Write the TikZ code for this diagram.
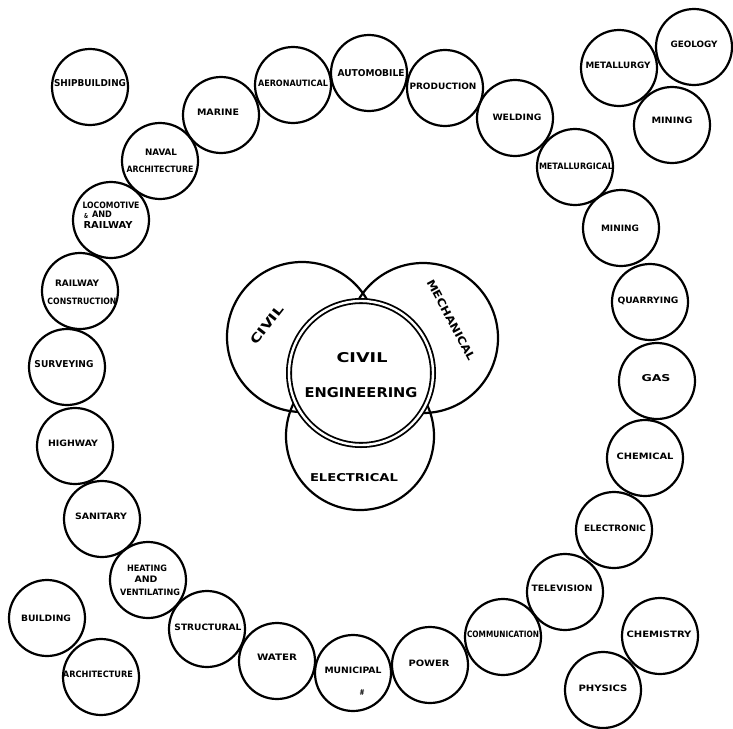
\documentclass[tikz,border=0pt]{standalone}
\usepackage{fontspec}
\setmainfont{DejaVu Sans}
\usepackage{graphicx}
\newcommand\lab[2]{\resizebox{#1pt}{6.5pt}{\bfseries #2}}
\newcommand\labh[3]{\resizebox{#1pt}{#2pt}{\bfseries #3}}
\begin{document}
\begin{tikzpicture}[x=1pt,y=-1pt,
  bub/.style={circle,draw,line width=2.2pt,minimum size=76pt,inner sep=0pt},
  big/.style={circle,draw,line width=2.2pt,minimum size=150pt,inner sep=0pt},
  lb/.style={inner sep=0pt,outer sep=0pt}]
\useasboundingbox (0,0) rectangle (733,728);
% central group
\node[big] (civ) at (302,337) {};
\node[big] (mech) at (423,338) {};
\node[big,minimum size=148pt] (elec) at (360,436) {};
\node[circle,draw,fill=white,line width=1.8pt,double,double distance=2.4pt,minimum size=144pt,inner sep=0pt] (ce) at (361,373) {};
\node[lb] (ce-t1) at (362,358) {\labh{51}{10}{CIVIL}};
\node[lb] (ce-t2) at (361,393) {\labh{113}{10}{ENGINEERING}};
\node[lb,rotate=52] (civ-t) at (267,325) {\labh{46}{9}{CIVIL}};
\node[lb,rotate=-62] (mech-t) at (451,320) {\labh{90}{8}{MECHANICAL}};
\node[lb] (elec-t) at (354,478) {\labh{88}{8}{ELECTRICAL}};
% ring
\node[bub] (ship) at (90,87) {};       \node[lb] (ship-t) at (90,83) {\labh{72}{7}{SHIPBUILDING}};
\node[bub] (aero) at (293,85) {};      \node[lb] (aero-t) at (293,83) {\lab{70}{AERONAUTICAL}};
\node[bub] (auto) at (369,73) {};      \node[lb] (auto-t) at (371,73) {\labh{67}{7}{AUTOMOBILE}};
\node[bub] (marine) at (221,115) {};   \node[lb] (marine-t) at (218,112) {\lab{42}{MARINE}};
\node[bub] (naval) at (160,161) {};
\node[lb] (naval-t1) at (161,152) {\lab{32}{NAVAL}};
\node[lb] (naval-t2) at (160,169) {\lab{67}{ARCHITECTURE}};
\node[bub] (loco) at (111,220) {};
\node[lb] (loco-t1) at (111,205) {\lab{57}{LOCOMOTIVE}};
\node[lb] (loco-t2) at (98,215) {\raisebox{-1.5pt}{\labh{4}{5}{\&}}\hspace{4pt}\lab{20}{AND}};
\node[lb] (loco-t3) at (108,225) {\labh{49}{7}{RAILWAY}};
\node[bub] (prod) at (445,88) {};      \node[lb] (prod-t) at (443,86) {\lab{67}{PRODUCTION}};
\node[bub] (weld) at (515,118) {};     \node[lb] (weld-t) at (517,117) {\lab{49}{WELDING}};
\node[bub] (metcal) at (575,167) {};   \node[lb] (metcal-t) at (576,166) {\lab{74}{METALLURGICAL}};
\node[bub] (mining1) at (621,228) {};  \node[lb] (mining1-t) at (620,228) {\lab{38}{MINING}};
\node[bub] (quarry) at (650,302) {};   \node[lb] (quarry-t) at (648,301) {\lab{61}{QUARRYING}};
\node[bub] (gas) at (657,381) {};      \node[lb] (gas-t) at (656,378) {\labh{29}{7}{GAS}};
\node[bub] (chemical) at (645,458) {}; \node[lb] (chemical-t) at (645,456) {\lab{57}{CHEMICAL}};
\node[bub] (electronic) at (614,530) {}; \node[lb] (electronic-t) at (615,528) {\lab{62}{ELECTRONIC}};
\node[bub] (tv) at (565,592) {};       \node[lb] (tv-t) at (562,588) {\lab{61}{TELEVISION}};
\node[bub] (comm) at (503,637) {};     \node[lb] (comm-t) at (503,634) {\lab{72}{COMMUNICATION}};
\node[bub] (power) at (430,665) {};    \node[lb] (power-t) at (429,663) {\lab{41}{POWER}};
\node[bub] (muni) at (353,673) {};
\node[lb] (muni-t1) at (353,670) {\lab{57}{MUNICIPAL}};
\node[lb] (muni-t2) at (362,692) {\labh{5}{6}{\#}};
\node[bub] (water) at (277,661) {};    \node[lb] (water-t) at (277,657) {\lab{40}{WATER}};
\node[bub] (struct) at (207,629) {};   \node[lb] (struct-t) at (208,627) {\lab{67}{STRUCTURAL}};
\node[bub] (heat) at (148,580) {};
\node[lb] (heat-t1) at (147,568) {\lab{40}{HEATING}};
\node[lb] (heat-t2) at (146,579) {\lab{23}{AND}};
\node[lb] (heat-t3) at (150,592) {\lab{60}{VENTILATING}};
\node[bub] (sanit) at (102,519) {};    \node[lb] (sanit-t) at (101,516) {\lab{52}{SANITARY}};
\node[bub] (highway) at (75,446) {};   \node[lb] (highway-t) at (73,443) {\lab{50}{HIGHWAY}};
\node[bub] (survey) at (67,367) {};    \node[lb] (survey-t) at (64,364) {\labh{59}{7}{SURVEYING}};
\node[bub] (railc) at (80,291) {};
\node[lb] (railc-t1) at (77,283) {\lab{44}{RAILWAY}};
\node[lb] (railc-t2) at (82,301) {\lab{69}{CONSTRUCTION}};
% corner groups
\node[bub] (metallurgy) at (619,68) {}; \node[lb] (metallurgy-t) at (618,65) {\lab{65}{METALLURGY}};
\node[bub] (geology) at (694,47) {};   \node[lb] (geology-t) at (694,44) {\lab{47}{GEOLOGY}};
\node[bub] (mining2) at (672,125) {};  \node[lb] (mining2-t) at (672,120) {\lab{41}{MINING}};
\node[bub] (building) at (47,618) {};  \node[lb] (building-t) at (46,618) {\lab{50}{BUILDING}};
\node[bub] (arch) at (101,677) {};     \node[lb] (arch-t) at (98,674) {\lab{70}{ARCHITECTURE}};
\node[bub] (chemistry) at (660,636) {}; \node[lb] (chemistry-t) at (659,634) {\lab{65}{CHEMISTRY}};
\node[bub] (physics) at (603,690) {};  \node[lb] (physics-t) at (603,688) {\lab{49}{PHYSICS}};
\end{tikzpicture}
\end{document}
